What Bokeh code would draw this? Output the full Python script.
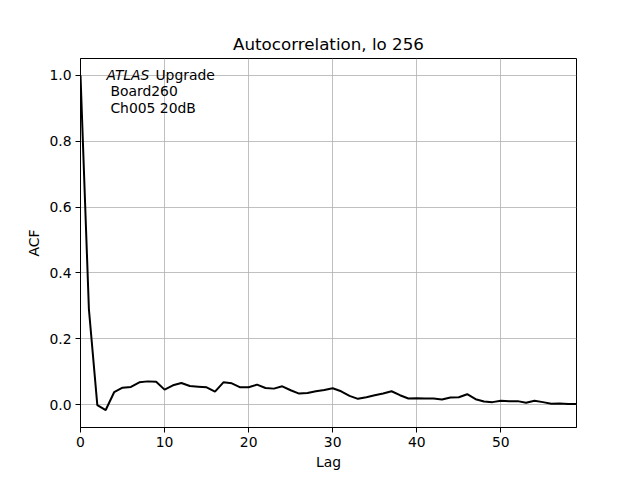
from bokeh.plotting import figure
from bokeh.models import Range1d, FixedTicker, Label
from bokeh.embed import file_html
from bokeh.resources import INLINE

lags = list(range(60))
acf = [1.0, 0.29, -0.001, -0.016, 0.038, 0.052, 0.054, 0.068, 0.071, 0.070,
       0.046, 0.059, 0.066, 0.057, 0.055, 0.053, 0.040, 0.068, 0.065, 0.053,
       0.053, 0.061, 0.051, 0.049, 0.056, 0.044, 0.034, 0.036, 0.041, 0.045,
       0.050, 0.041, 0.027, 0.018, 0.023, 0.029, 0.034, 0.041, 0.029, 0.019,
       0.020, 0.019, 0.019, 0.016, 0.022, 0.023, 0.032, 0.017, 0.010, 0.008,
       0.012, 0.011, 0.011, 0.006, 0.012, 0.008, 0.003, 0.004, 0.002, 0.002]
x_ticks = [0, 10, 20, 30, 40, 50]
y_ticks = [0.0, 0.2, 0.4, 0.6, 0.8, 1.0]
y_tick_labels = ["0.0", "0.2", "0.4", "0.6", "0.8", "1.0"]

FONT = "DejaVu Sans"
FS = "13.9px"

p = figure(width=640, height=480, output_backend="svg", toolbar_location=None,
           title="Autocorrelation, lo 256",
           x_range=Range1d(0, 59), y_range=Range1d(-0.069, 1.051),
           min_border_left=80, min_border_right=64, min_border_top=58,
           min_border_bottom=53)

p.title.align = "center"
p.title.text_font = FONT
p.title.text_font_size = "16.7px"
p.title.text_font_style = "normal"
p.title.text_color = "black"
p.title.standoff = 10

p.outline_line_color = "black"
p.outline_line_width = 1
p.background_fill_color = "white"
p.border_fill_color = "white"

for ax in (p.xaxis[0], p.yaxis[0]):
    ax.axis_line_color = "black"
    ax.major_tick_line_color = "black"
    ax.major_tick_in = 0
    ax.major_tick_out = 5
    ax.minor_tick_line_color = None
    ax.major_label_text_font = FONT
    ax.major_label_text_font_size = FS
    ax.major_label_text_color = "black"
    ax.major_label_standoff = 4
    ax.axis_label_text_font = FONT
    ax.axis_label_text_font_size = FS
    ax.axis_label_text_font_style = "normal"
    ax.axis_label_text_color = "black"

p.xaxis.ticker = FixedTicker(ticks=x_ticks)
p.yaxis.ticker = FixedTicker(ticks=y_ticks)
p.yaxis.major_label_overrides = {t: l for t, l in zip(y_ticks, y_tick_labels)}
p.xaxis.axis_label = "Lag"
p.yaxis.axis_label = "ACF"
p.xaxis.axis_label_standoff = 4
p.yaxis.axis_label_standoff = 4

p.xgrid.ticker = FixedTicker(ticks=x_ticks)
p.ygrid.ticker = FixedTicker(ticks=y_ticks)
for g in (p.xgrid[0], p.ygrid[0]):
    g.grid_line_color = "#b0b0b0"
    g.grid_line_width = 0.8

p.line(lags, acf, line_color="black", line_width=2)

tx = 3.08
p.add_layout(Label(x=tx, y=1.002, text="ATLAS", text_font=FONT,
                   text_font_style="italic", text_font_size=FS,
                   text_color="black", text_baseline="alphabetic"))
p.add_layout(Label(x=tx, y=1.002, x_offset=49, text="Upgrade", text_font=FONT,
                   text_font_size=FS, text_color="black",
                   text_baseline="alphabetic"))
p.add_layout(Label(x=tx, y=0.951, x_offset=4, text=" Board260", text_font=FONT,
                   text_font_size=FS, text_color="black",
                   text_baseline="alphabetic"))
p.add_layout(Label(x=tx, y=0.900, x_offset=4, text=" Ch005 20dB", text_font=FONT,
                   text_font_size=FS, text_color="black",
                   text_baseline="alphabetic"))

open("out.html", "w").write(file_html(p, INLINE))
